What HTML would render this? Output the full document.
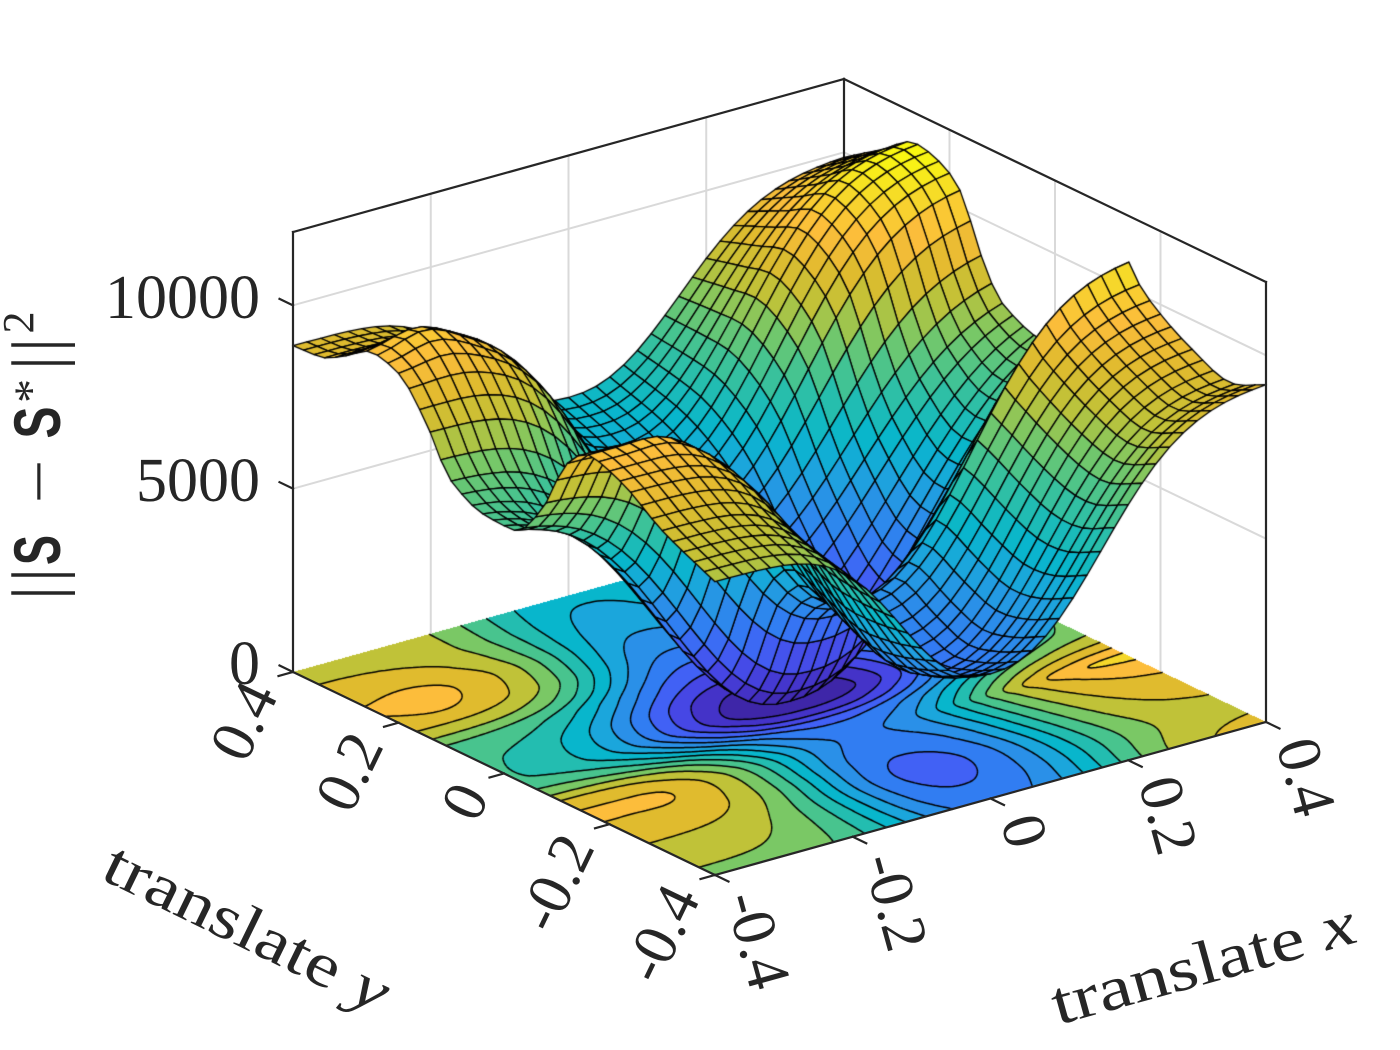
<!DOCTYPE html>
<html><head><meta charset="utf-8">
<style>
html,body{margin:0;padding:0;background:#fff;}
#wrap{position:relative;width:1400px;height:1050px;overflow:hidden;background:#fff;}
#wrap svg,#wrap canvas{position:absolute;left:0;top:0;}
text{font-family:"Liberation Serif",serif;fill:#262626;}
</style></head><body>
<div id="wrap">
<svg id="bg" width="1400" height="1050" xmlns="http://www.w3.org/2000/svg">
 <g stroke="#d9d9d9" stroke-width="2" fill="none">
  <line x1="430.75" y1="633.75" x2="430.75" y2="193.75"/>
  <line x1="568.5" y1="595.5" x2="568.5" y2="155.5"/>
  <line x1="706.25" y1="557.25" x2="706.25" y2="117.25"/>
  <line x1="293" y1="488.67" x2="844" y2="335.67"/>
  <line x1="293" y1="305.33" x2="844" y2="152.33"/>
  <line x1="949.5" y1="569.75" x2="949.5" y2="129.75"/>
  <line x1="1055" y1="620.5" x2="1055" y2="180.5"/>
  <line x1="1160.5" y1="671.25" x2="1160.5" y2="231.25"/>
  <line x1="844" y1="335.67" x2="1266" y2="538.67"/>
  <line x1="844" y1="152.33" x2="1266" y2="355.33"/>
 </g>
 <g stroke="#262626" stroke-width="2.2" fill="none" stroke-linecap="square">
  <line x1="293" y1="232" x2="844" y2="79"/>
  <line x1="844" y1="79" x2="1266" y2="282"/>
  <line x1="844" y1="79" x2="844" y2="519"/>
 </g>
</svg>
<canvas id="cv" width="1400" height="1050"></canvas>
<svg id="fg" width="1400" height="1050" xmlns="http://www.w3.org/2000/svg">
 <g stroke="#262626" stroke-width="2.2" fill="none" stroke-linecap="square">
  <line x1="293" y1="232" x2="293" y2="672"/>
  <line x1="1266" y1="282" x2="1266" y2="722"/>
  <line x1="293" y1="672" x2="715" y2="875"/>
  <line x1="715" y1="875" x2="1266" y2="722"/>
  <line x1="293" y1="672" x2="279.5" y2="665.5"/>
  <line x1="293" y1="488.67" x2="279.5" y2="482.17"/>
  <line x1="293" y1="305.33" x2="279.5" y2="298.83"/>
  <line x1="715" y1="875" x2="728.5" y2="881.5"/>
  <line x1="852.75" y1="836.75" x2="866.25" y2="843.25"/>
  <line x1="990.5" y1="798.5" x2="1004" y2="805"/>
  <line x1="1128.25" y1="760.25" x2="1141.75" y2="766.75"/>
  <line x1="1266" y1="722" x2="1279.5" y2="728.5"/>
  <line x1="293" y1="672" x2="278.5" y2="676"/>
  <line x1="398.5" y1="722.75" x2="384" y2="726.75"/>
  <line x1="504" y1="773.5" x2="489.5" y2="777.5"/>
  <line x1="609.5" y1="824.25" x2="595" y2="828.25"/>
  <line x1="715" y1="875" x2="700.5" y2="879"/>
 </g>
 <g font-size="62">
  <text x="260" y="318" text-anchor="end">10000</text>
  <text x="260" y="501" text-anchor="end">5000</text>
  <text x="260" y="684" text-anchor="end">0</text>
  <text transform="translate(725,898) rotate(74.5)">-0.4</text>
  <text transform="translate(862.75,859.75) rotate(74.5)">-0.2</text>
  <text transform="translate(1000.5,821.5) rotate(74.5)">0</text>
  <text transform="translate(1138.25,783.25) rotate(74.5)">0.2</text>
  <text transform="translate(1276,745) rotate(74.5)">0.4</text>
  <text transform="translate(279,695) rotate(-64.3)" text-anchor="end">0.4</text>
  <text transform="translate(384.5,745.75) rotate(-64.3)" text-anchor="end">0.2</text>
  <text transform="translate(490,796.5) rotate(-64.3)" text-anchor="end">0</text>
  <text transform="translate(595.5,847.25) rotate(-64.3)" text-anchor="end">-0.2</text>
  <text transform="translate(701,898) rotate(-64.3)" text-anchor="end">-0.4</text>
  <text transform="translate(1058,1025) rotate(-15.5)" textLength="313" lengthAdjust="spacingAndGlyphs">translate <tspan font-style="italic">x</tspan></text>
  <text transform="translate(99,878) rotate(26)" textLength="310" lengthAdjust="spacingAndGlyphs">translate <tspan font-style="italic">y</tspan></text>
 </g>
 <g transform="translate(60,596) rotate(-90)">
  <text x="-4" y="0" font-size="70">|</text>
  <text x="14" y="0" font-size="70">|</text>
  <text x="46" y="0" font-size="66" text-anchor="middle" style="font-family:'Liberation Sans',sans-serif;font-weight:bold" textLength="30" lengthAdjust="spacingAndGlyphs">S</text>
  <text x="114.5" y="0" font-size="64" text-anchor="middle" textLength="44" lengthAdjust="spacingAndGlyphs">−</text>
  <text x="173.5" y="0" font-size="66" text-anchor="middle" style="font-family:'Liberation Sans',sans-serif;font-weight:bold" textLength="32" lengthAdjust="spacingAndGlyphs">S</text>
  <text x="205" y="-13" font-size="48" text-anchor="middle">*</text>
  <text x="226" y="0" font-size="70">|</text>
  <text x="244" y="0" font-size="70">|</text>
  <text x="273.5" y="-27" font-size="44" text-anchor="middle">2</text>
 </g>
</svg>
</div>
<script>
(function(){
function pchip(xs, ys){
  var n=xs.length, h=[], d=[], m=new Array(n), i;
  for(i=0;i<n-1;i++){h[i]=xs[i+1]-xs[i]; d[i]=(ys[i+1]-ys[i])/h[i];}
  m[0]=d[0]; m[n-1]=d[n-2];
  for(i=1;i<n-1;i++){
    if(d[i-1]*d[i]<=0) m[i]=0;
    else { var w1=2*h[i]+h[i-1], w2=h[i]+2*h[i-1]; m[i]=(w1+w2)/(w1/d[i-1]+w2/d[i]); }
  }
  return function(x){
    var k=0;
    if(x<=xs[0]) k=0; else if(x>=xs[n-1]) k=n-2; else {while(x>xs[k+1]) k++;}
    var t=(x-xs[k])/h[k], t2=t*t, t3=t2*t;
    return (2*t3-3*t2+1)*ys[k]+(t3-2*t2+t)*h[k]*m[k]+(-2*t3+3*t2)*ys[k+1]+(t3-t2)*h[k]*m[k+1];
  };
}
var EL=pchip([-0.4,-0.3,-0.22,-0.16,-0.12,-0.07,-0.02,0.04,0.1,0.15,0.2,0.25,0.3,0.35,0.4],
             [8000,8700,9500,9800,9300,7700,6900,6900,7300,8600,9500,9700,9300,8950,8900]);
var ER=pchip([-0.4,-0.33,-0.26,-0.2,-0.16,-0.14,-0.12,-0.08,-0.03,0.03,0.1,0.142,0.178,0.214,0.263,0.33,0.4],
             [9245,8830,9250,9800,10350,10850,10250,9000,8150,8100,8300,9250,10580,11050,11250,10600,9900]);
var CC=pchip([-0.4,-0.34,-0.28,-0.22,-0.15,-0.1,-0.055,-0.015,0.03,0.1,0.2,0.3,0.4],
             [3400,2950,2700,3050,3600,2900,950,0,450,2000,3800,4800,5400]);
function Z(x,y){
  var c=CC(y), e, w;
  if(x<0){ e=EL(y); w=0.165+0.06*Math.exp(-Math.pow(y/0.11,2)); }
  else { e=ER(y); w=0.205+0.065*Math.exp(-Math.pow((y-0.03)/0.13,2)); }
  var g=Math.exp(-Math.pow(Math.abs(x)/w,2.35));
  var z=e*(1-g)+c*g;
  z+=420*Math.exp(-(Math.pow((x+0.33)/0.05,2)+Math.pow((y-0.24)/0.05,2)));
  z+=150*Math.exp(-(Math.pow((x+0.3)/0.04,2)+Math.pow((y+0.17)/0.03,2)));
  return z;
}
function proj(x,y,z){var u=(x+0.4)/0.8, v=(y+0.4)/0.8; return [715+551*u-422*v, 875-153*u-203*v-z*0.0366667];}
var stops=['#3e26a8','#4433c8','#4647e5','#4161f5','#317df2','#2a90e8','#1ba6dc','#08b6cc','#23bdb0','#48c48e','#7ac865','#c0c238','#e0bb2e','#fcbd3b','#f6d82a','#f9fb0e'];
var sc=stops.map(function(h){return [parseInt(h.substr(1,2),16),parseInt(h.substr(3,2),16),parseInt(h.substr(5,2),16)];});
function cmap(t){
  if(t<0)t=0; if(t>1)t=1;
  var f=t*15, i=Math.floor(f); if(i>=15){i=14;} var r=f-i;
  var a=sc[i], b=sc[i+1];
  return [a[0]+(b[0]-a[0])*r, a[1]+(b[1]-a[1])*r, a[2]+(b[2]-a[2])*r];
}
var M=41, zs=[], zmin=1e9, zmax=-1e9, i, j;
for(i=0;i<M;i++){zs[i]=[]; for(j=0;j<M;j++){var zz=Z(-0.4+0.02*i,-0.4+0.02*j); zs[i][j]=zz; if(zz<zmin)zmin=zz; if(zz>zmax)zmax=zz;}}
if(zmin>0) zmin=0;
var range=zmax-zmin, step=range/15;
var cv=document.getElementById('cv'), ctx=cv.getContext('2d');
var img=ctx.createImageData(1400,1050), data=img.data;
var det=-176419;
for(var py=505;py<=882;py++){
  for(var px=285;px<=1275;px++){
    var dx=px+0.5-715, dy=py+0.5-875;
    var u=(-203*dx+422*dy)/det, v=(551*dy+153*dx)/det;
    if(u<0||u>1||v<0||v>1) continue;
    var z=Z(-0.4+0.8*u,-0.4+0.8*v);
    var k=Math.floor((z-zmin)/step); if(k<0)k=0; if(k>14)k=14;
    var c=sc[k], idx=(py*1400+px)*4;
    data[idx]=c[0]; data[idx+1]=c[1]; data[idx+2]=c[2]; data[idx+3]=255;
  }
}
ctx.putImageData(img,0,0);
var N=200, G=new Float64Array((N+1)*(N+1));
for(i=0;i<=N;i++) for(j=0;j<=N;j++) G[i*(N+1)+j]=Z(-0.4+0.8*i/N,-0.4+0.8*j/N);
function gp(p){return proj(-0.4+0.8*p[0]/N,-0.4+0.8*p[1]/N,0);}
ctx.beginPath();
for(var lv=1;lv<15;lv++){
  var L=zmin+lv*step;
  for(i=0;i<N;i++) for(j=0;j<N;j++){
    var a=G[i*(N+1)+j], b=G[(i+1)*(N+1)+j], cc=G[(i+1)*(N+1)+j+1], d=G[i*(N+1)+j+1];
    var pts=[];
    if((a<L)!==(b<L)) pts.push([i+(L-a)/(b-a),j]);
    if((b<L)!==(cc<L)) pts.push([i+1,j+(L-b)/(cc-b)]);
    if((cc<L)!==(d<L)) pts.push([i+1-(L-cc)/(d-cc),j+1]);
    if((d<L)!==(a<L)) pts.push([i,j+1-(L-d)/(a-d)]);
    if(pts.length>=2){
      var p0=gp(pts[0]), p1=gp(pts[1]); ctx.moveTo(p0[0],p0[1]); ctx.lineTo(p1[0],p1[1]);
      if(pts.length===4){p0=gp(pts[2]); p1=gp(pts[3]); ctx.moveTo(p0[0],p0[1]); ctx.lineTo(p1[0],p1[1]);}
    }
  }
}
ctx.strokeStyle='#000'; ctx.lineWidth=1.5; ctx.stroke();
var P=[]; for(i=0;i<M;i++){P[i]=[]; for(j=0;j<M;j++) P[i][j]=proj(-0.4+0.02*i,-0.4+0.02*j,zs[i][j]);}
var quads=[];
for(i=0;i<M-1;i++) for(j=0;j<M-1;j++){
  var za=(zs[i][j]+zs[i+1][j]+zs[i+1][j+1]+zs[i][j+1])/4;
  var uu=(i+0.5)/(M-1), vv=(j+0.5)/(M-1);
  quads.push({i:i,j:j,z:za,d:393*uu+513.6*vv-0.01427*za});
}
quads.sort(function(p,q){return q.d-p.d;});
ctx.lineWidth=1.3; ctx.lineJoin='round'; ctx.strokeStyle='#000';
for(var n=0;n<quads.length;n++){
  var q=quads[n], a1=P[q.i][q.j], a2=P[q.i+1][q.j], a3=P[q.i+1][q.j+1], a4=P[q.i][q.j+1];
  var col=cmap((q.z-zmin)/range);
  ctx.beginPath(); ctx.moveTo(a1[0],a1[1]); ctx.lineTo(a2[0],a2[1]); ctx.lineTo(a3[0],a3[1]); ctx.lineTo(a4[0],a4[1]); ctx.closePath();
  ctx.fillStyle='rgb('+Math.round(col[0])+','+Math.round(col[1])+','+Math.round(col[2])+')';
  ctx.fill(); ctx.stroke();
}
})();
</script>
</body></html>
